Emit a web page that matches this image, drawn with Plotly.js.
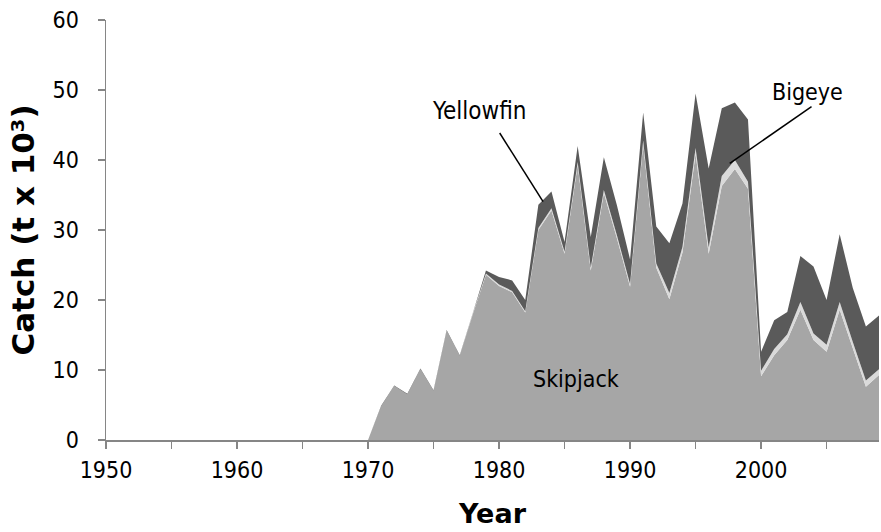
<!DOCTYPE html>
<html>
<head>
<meta charset="utf-8">
<script src="https://cdn.plot.ly/plotly-3.0.1.min.js"></script>
<style>
  html, body { margin: 0; padding: 0; background: #fff; }
  #chart { width: 881px; height: 532px; }
</style>
</head>
<body>
<div id="chart"></div>
<script>
// ---- data (t x 10^3) ----
const years = [1950,1951,1952,1953,1954,1955,1956,1957,1958,1959,
               1960,1961,1962,1963,1964,1965,1966,1967,1968,1969,
               1970,1971,1972,1973,1974,1975,1976,1977,1978,1979,
               1980,1981,1982,1983,1984,1985,1986,1987,1988,1989,
               1990,1991,1992,1993,1994,1995,1996,1997,1998,1999,
               2000,2001,2002,2003,2004,2005,2006,2007,2008,2009];

const skipjack = [0,0,0,0,0,0,0,0,0,0,
                  0,0,0,0,0,0,0,0,0,0,
                  0,4.8,7.7,6.5,10.1,7.0,15.6,12.0,18.0,23.6,
                  22.0,21.1,18.2,30.0,32.8,26.6,39.3,24.2,35.3,28.8,
                  21.9,42.3,24.6,20.1,26.8,40.9,26.6,36.3,38.7,35.9,
                  9.1,12.1,14.3,18.6,14.3,12.6,18.6,13.1,7.6,9.3];

const bigeye = [0,0,0,0,0,0,0,0,0,0,
                0,0,0,0,0,0,0,0,0,0,
                0,0,0,0,0,0,0,0,0.1,0.2,
                0.2,0.2,0.2,0.3,0.3,0.3,0.4,0.4,0.4,0.4,
                0.4,0.5,0.6,0.9,0.8,0.8,0.9,1.4,1.3,1.0,
                0.8,0.9,0.8,1.1,0.9,1.0,1.1,0.9,0.9,0.8];

const yellowfin = [0,0,0,0,0,0,0,0,0,0,
                   0,0,0,0,0,0,0,0,0,0,
                   0,0.1,0.1,0.1,0.1,0.1,0.1,0.1,0.2,0.4,
                   1.1,1.5,1.6,3.3,2.4,1.4,2.3,4.4,4.7,4.3,
                   3.5,4.0,5.3,7.1,6.2,7.8,11.3,9.7,8.2,8.9,
                   2.7,4.1,3.2,6.6,9.6,6.4,9.7,7.7,7.7,7.7];

const xTickVals = [1950,1955,1960,1965,1970,1975,1980,1985,1990,1995,2000,2005];
const xTickText = ["1950","","1960","","1970","","1980","","1990","","2000",""];

const FONT = "DejaVu Sans Condensed, DejaVu Sans, sans-serif";
const BOLD = "DejaVu Sans, sans-serif";

function area(name, y, color) {
  return {
    type: "scatter", mode: "lines", name: name,
    x: years, y: y, stackgroup: "catch",
    line: { width: 0, color: color, shape: "linear" },
    fillcolor: color, hoverinfo: "x+y+name"
  };
}

const data = [
  area("Skipjack", skipjack, "#a6a6a6"),
  area("Bigeye", bigeye, "#dadada"),
  area("Yellowfin", yellowfin, "#5a5a5a")
];

const layout = {
  width: 881, height: 532,
  margin: { l: 106, r: 2, t: 20, b: 92 },
  paper_bgcolor: "#ffffff", plot_bgcolor: "#ffffff",
  showlegend: false,
  font: { family: FONT, size: 20, color: "#000" },
  xaxis: {
    range: [1950, 2009], showgrid: false, zeroline: false,
    showline: true, linecolor: "#868686", linewidth: 1.5,
    ticks: "outside", ticklen: 7, tickwidth: 1.5, tickcolor: "#868686",
    tickmode: "array", tickvals: xTickVals, ticktext: xTickText,
    ticklabelstandoff: 2,
    tickfont: { family: FONT, size: 23, color: "#000" },
    title: { text: "<b>Year</b>", font: { family: BOLD, size: 27, color: "#000" }, standoff: 22 }
  },
  yaxis: {
    range: [0, 60], dtick: 10, showgrid: false, zeroline: false,
    showline: true, linecolor: "#868686", linewidth: 1.5,
    ticks: "outside", ticklen: 7, tickwidth: 1.5, tickcolor: "#868686",
    ticklabelstandoff: 14,
    tickfont: { family: FONT, size: 23, color: "#000" },
    title: { text: "<b>Catch (t x 10³)</b>", font: { family: BOLD, size: 31, color: "#000" }, standoff: 8 }
  },
  shapes: [
    { type: "line", xref: "x", yref: "y", x0: 1980.05, y0: 43.86, x1: 1983.36, y1: 34.04,
      line: { color: "#000", width: 1.5 } },
    { type: "line", xref: "x", yref: "y", x0: 2003.85, y0: 47.61, x1: 1997.61, y1: 39.53,
      line: { color: "#000", width: 1.5 } }
  ],
  annotations: [
    { x: 1978.5, y: 47.0, xref: "x", yref: "y", text: "Yellowfin", showarrow: false,
      font: { family: FONT, size: 24, color: "#000" } },
    { x: 2003.55, y: 49.7, xref: "x", yref: "y", text: "Bigeye", showarrow: false,
      font: { family: FONT, size: 23, color: "#000" } },
    { x: 1985.85, y: 8.7, xref: "x", yref: "y", text: "Skipjack", showarrow: false,
      font: { family: FONT, size: 23, color: "#000" } }
  ]
};

Plotly.newPlot("chart", data, layout, { displayModeBar: false, staticPlot: true });
</script>
</body>
</html>
